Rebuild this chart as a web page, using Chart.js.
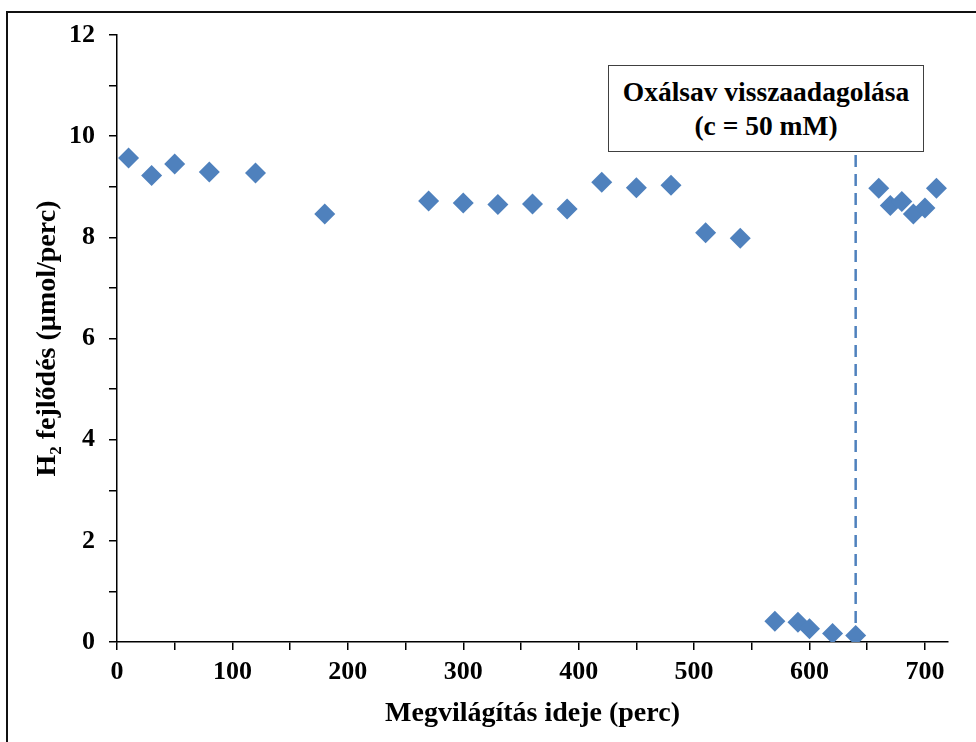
<!DOCTYPE html>
<html>
<head>
<meta charset="utf-8">
<script src="https://cdn.jsdelivr.net/npm/chart.js@4/dist/chart.umd.min.js"></script>
<style>
  html, body { margin: 0; padding: 0; background: #fff; overflow: hidden; }
  #wrap { position: relative; width: 976px; height: 742px; }
  #frame { position: absolute; left: 6px; top: 11px; width: 2000px; height: 2000px;
           border-left: 2px solid #111; border-top: 2px solid #111; box-sizing: border-box; }
  #c { position: absolute; left: 0; top: 0; }
  #note { position: absolute; left: 608px; top: 65px; width: 316px; height: 87px; box-sizing: border-box;
          border: 1.5px solid #404040; background: #fff; display: flex; flex-direction: column;
          justify-content: center; align-items: center; font-family: "Liberation Serif", "Times New Roman", serif;
          font-weight: bold; font-size: 27.5px; line-height: 34px; color: #000; text-align: center; }
</style>
</head>
<body>
<div id="wrap">
  <div id="frame"></div>
  <canvas id="c" width="976" height="742"></canvas>
  <div id="note"><div>Oxálsav visszaadagolása</div><div>(c = 50 mM)</div></div>
</div>
<script>
// ---- data ----
const timeMin = [10, 30, 50, 80, 120, 180, 270, 300, 330, 360, 390, 420, 450, 480, 510, 540,
                 570, 590, 600, 620, 640, 660, 670, 680, 690, 700, 710];
const h2Rate  = [9.57, 9.22, 9.45, 9.29, 9.27, 8.46, 8.72, 8.68, 8.65, 8.66, 8.56, 9.09, 8.98, 9.03, 8.09, 7.98,
                 0.41, 0.39, 0.26, 0.17, 0.13, 8.97, 8.63, 8.71, 8.46, 8.58, 8.97];
const markerLineX = [640, 640];
const markerLineY = [0, 9.68];
const xAxisTitle = 'Megvilágítás ideje (perc)';
const yAxisTitle = 'H₂ fejlődés (µmol/perc)';

const blue = '#4F81BD';
const serif = '"Liberation Serif", "Times New Roman", serif';

const points = timeMin.map((t, i) => ({ x: t, y: h2Rate[i] }));
const vline = markerLineX.map((t, i) => ({ x: t, y: markerLineY[i] }));

new Chart(document.getElementById('c'), {
  type: 'scatter',
  data: {
    datasets: [
      {
        data: points, order: 0,
        pointStyle: 'rectRot', pointRadius: 10.5, pointHoverRadius: 10.5,
        backgroundColor: blue, borderColor: blue, borderWidth: 0, showLine: false
      },
      {
        data: vline, order: 1, showLine: true,
        borderColor: blue, borderWidth: 2.5, borderDash: [12, 7],
        pointRadius: 0, pointHoverRadius: 0, fill: false
      }
    ]
  },
  options: {
    responsive: false, animation: false, devicePixelRatio: 1,
    layout: { padding: { left: 0, top: 35, right: 28, bottom: 0 } },
    plugins: { legend: { display: false }, tooltip: { enabled: false } },
    scales: {
      x: {
        type: 'linear', min: 0, max: 720,
        afterFit: s => { s.height = 100; },
        border: { display: true, color: '#000', width: 1.5 },
        grid: { display: true, drawOnChartArea: false, drawTicks: true, tickLength: 8, color: '#000', lineWidth: 1.5 },
        ticks: {
          stepSize: 50, includeBounds: false, autoSkip: false, maxRotation: 0, padding: 7,
          color: '#000', font: { family: serif, weight: 'bold', size: 26 },
          callback: v => (v % 100 === 0 ? String(v) : '')
        },
        title: { display: true, text: xAxisTitle, color: '#000',
                 font: { family: serif, weight: 'bold', size: 28 }, padding: { top: 0, bottom: 11 } }
      },
      y: {
        type: 'linear', min: 0, max: 12,
        afterFit: s => { s.width = 117; },
        border: { display: true, color: '#000', width: 1.5 },
        grid: { display: true, drawOnChartArea: false, drawTicks: true, tickLength: 8, color: '#000', lineWidth: 1.5 },
        ticks: {
          stepSize: 1, includeBounds: false, autoSkip: false, padding: 14,
          color: '#000', font: { family: serif, weight: 'bold', size: 26 },
          callback: v => (v % 2 === 0 ? String(v) : '')
        },
        title: { display: true, text: yAxisTitle, color: '#000',
                 font: { family: serif, weight: 'bold', size: 28 }, padding: { top: 31, bottom: 0 } }
      }
    }
  }
});
</script>
</body>
</html>
